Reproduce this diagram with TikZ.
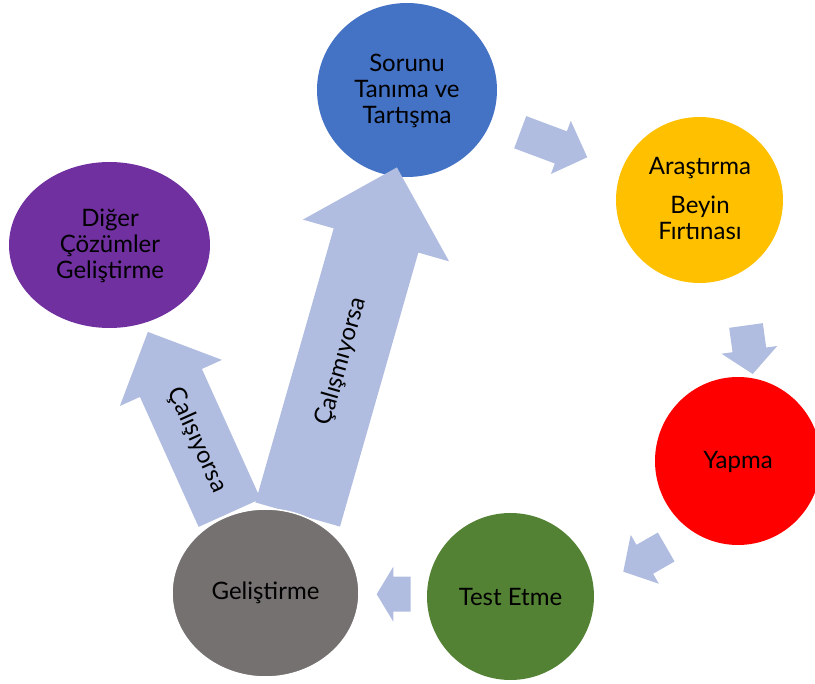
\documentclass[tikz,border=0pt]{standalone}
\usepackage{fontspec}
\setmainfont{Lato}
\usetikzlibrary{shapes.geometric}
\definecolor{arrowfill}{RGB}{176,189,224}
\definecolor{cblue}{HTML}{4472C4}
\definecolor{cyellow}{HTML}{FFC000}
\definecolor{cred}{HTML}{FF0000}
\definecolor{cgreen}{HTML}{548235}
\definecolor{cgray}{HTML}{767171}
\definecolor{cpurple}{HTML}{7030A0}
% #1,#2 tail centre, #3 angle, #4 length, #5 shaft half width, #6 head half width, #7 head length
\newcommand\blockarrow[7]{%
  \fill[arrowfill, shift={(#1,#2)}, rotate=#3]
    (0,-#5) -- ({#4-#7},-#5) -- ({#4-#7},-#6) -- (#4,0) -- ({#4-#7},#6)
    -- ({#4-#7},#5) -- (0,#5) -- cycle;}
\begin{document}
\begin{tikzpicture}[x=1pt,y=-1pt,
  blob/.style={ellipse, inner sep=0pt, draw=none},
  lbl/.style={font=\fontsize{24}{26}\selectfont, text=black, align=center, inner sep=0pt}]
\useasboundingbox (0,0) rectangle (815,684);
% circles
\node[blob, fill=cblue,   minimum width=180pt, minimum height=174pt] (sorun) at (407,90) {};
\node[blob, fill=cyellow, minimum width=167pt, minimum height=166pt] (aras)  at (699.5,200) {};
\node[blob, fill=cred,    minimum width=166pt, minimum height=168pt] (yap)   at (738,461) {};
\node[blob, fill=cgreen,  minimum width=167pt, minimum height=167pt] (test)  at (510.5,596.5) {};
\node[blob, fill=cpurple, minimum width=201pt, minimum height=166pt] (diger) at (109.5,245) {};
% small cycle arrows
\blockarrow{520.2}{132.2}{-20.5}{71.6}{17.2}{28.4}{28.2}
\blockarrow{746}{325.5}{-82.1}{49}{17}{28.1}{24.4}
\blockarrow{666.2}{547}{-150.1}{49.5}{16.7}{28.2}{24.8}
\blockarrow{410.7}{594.2}{180}{34}{17.5}{27.5}{16.6}
% big arrows
\blockarrow{229.6}{512.9}{114.3}{198.6}{34}{56}{56}
\blockarrow{297.7}{514.5}{74.05}{361}{44}{76}{76}
\node[blob, fill=cgray, draw=white, line width=1.5pt, minimum width=187pt, minimum height=168pt] (gel) at (265.5,593) {};
% texts
\node[lbl] (t1) at (407,90.5) {Sorunu\\Tanıma ve\\Tartışma};
\node[lbl] (t2a) at (700,168) {Araştırma};
\node[lbl] (t2b) at (700,217.5) {Beyin\\Fırtınası};
\node[lbl] (t3) at (738,462) {Yapma};
\node[lbl] (t4) at (510.5,597) {Test Etme};
\node[lbl] (t5) at (265.5,593) {Geliştirme};
\node[lbl] (t6) at (110,246) {Diğer\\Çözümler\\Geliştirme};
\node[lbl, rotate=74.05] (l1) at (341.5,361.7) {Çalışmıyorsa};
\node[lbl, rotate=-65.7] (l2) at (197,440) {Çalışıyorsa};
\end{tikzpicture}
\end{document}
